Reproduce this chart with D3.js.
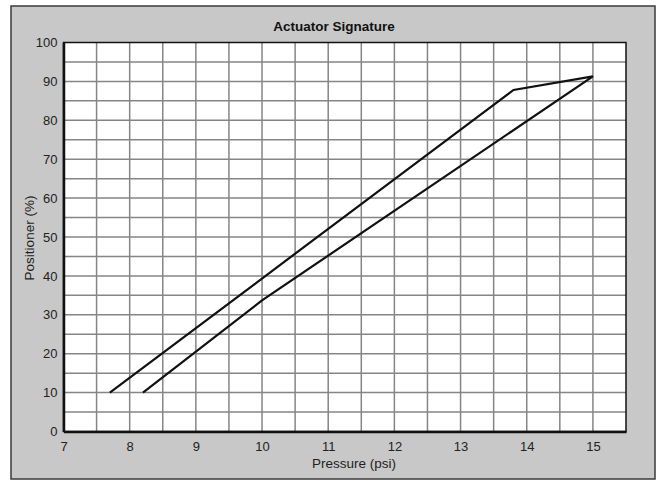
<!DOCTYPE html>
<html>
<head>
<meta charset="utf-8">
<script src="https://cdn.jsdelivr.net/npm/d3@7"></script>
<style>
  html, body { margin: 0; padding: 0; background: #fff; }
  svg { display: block; font-family: "Liberation Sans", Arial, sans-serif; }
</style>
</head>
<body>
<svg id="chart" width="657" height="482"></svg>
<script>
// Data (hysteresis loop: increasing stroke, then decreasing stroke)
const pressure   = [8.2, 10, 15, 13.8, 7.7];
const positioner = [10, 33.7, 91.3, 87.8, 10];
const xTicks = [7, 8, 9, 10, 11, 12, 13, 14, 15];
const yTicks = [0, 10, 20, 30, 40, 50, 60, 70, 80, 90, 100];
const xGrid = d3.range(7.5, 15.01, 0.5);
const yGrid = d3.range(5, 100, 5);
const title = "Actuator Signature";
const xTitle = "Pressure (psi)";
const yTitle = "Positioner (%)";

const svg = d3.select("#chart");
const plot = { left: 63.5, right: 626, top: 42.5, bottom: 431.5 };

// Outer panel
svg.append("rect")
  .attr("x", 11).attr("y", 6)
  .attr("width", 644).attr("height", 473)
  .attr("fill", "#c8c8c8")
  .attr("stroke", "#3a3a3a").attr("stroke-width", 1.5);

const x = d3.scaleLinear().domain([7, 15.5]).range([plot.left, plot.right]);
const y = d3.scaleLinear().domain([0, 100]).range([plot.bottom, plot.top]);

// Plot background
svg.append("rect")
  .attr("x", plot.left).attr("y", plot.top)
  .attr("width", plot.right - plot.left).attr("height", plot.bottom - plot.top)
  .attr("fill", "#ffffff");

// Grid
const grid = svg.append("g").attr("stroke", "#858585").attr("stroke-width", 1.5);
grid.selectAll("line.v").data(xGrid).join("line")
  .attr("class", "v")
  .attr("x1", d => x(d)).attr("x2", d => x(d))
  .attr("y1", plot.top).attr("y2", plot.bottom);
grid.selectAll("line.h").data(yGrid).join("line")
  .attr("class", "h")
  .attr("x1", plot.left).attr("x2", plot.right)
  .attr("y1", d => y(d)).attr("y2", d => y(d));

// Frame
svg.append("rect")
  .attr("x", plot.left).attr("y", plot.top)
  .attr("width", plot.right - plot.left).attr("height", plot.bottom - plot.top)
  .attr("fill", "none").attr("stroke", "#111").attr("stroke-width", 1.5);

// Axes
const xAxis = d3.axisBottom(x).tickValues(xTicks).tickSize(0).tickPadding(10).tickFormat(d3.format("d"));
const yAxis = d3.axisLeft(y).tickValues(yTicks).tickSize(0).tickPadding(6).tickFormat(d3.format("d"));

const gx = svg.append("g").attr("transform", `translate(0,${plot.bottom})`).call(xAxis);
const gy = svg.append("g").attr("transform", `translate(${plot.left},0)`).call(yAxis);
[gx, gy].forEach(g => {
  g.select(".domain").attr("stroke", "#111").attr("stroke-width", 2.5);
  g.selectAll("text").attr("font-size", 13).attr("fill", "#222")
    .attr("font-family", "'Liberation Sans', Arial, sans-serif");
});

// Series line
const line = d3.line().x(d => x(d[0])).y(d => y(d[1]));
svg.append("path")
  .datum(pressure.map((p, i) => [p, positioner[i]]))
  .attr("d", line)
  .attr("fill", "none")
  .attr("stroke", "#111")
  .attr("stroke-width", 2.2)
  .attr("stroke-linejoin", "miter");

// Titles
svg.append("text")
  .attr("x", 334).attr("y", 31)
  .attr("text-anchor", "middle")
  .attr("font-size", 13.5).attr("font-weight", "bold").attr("fill", "#111")
  .text(title);

svg.append("text")
  .attr("x", 354).attr("y", 468)
  .attr("text-anchor", "middle")
  .attr("font-size", 13.5).attr("fill", "#222")
  .text(xTitle);

svg.append("text")
  .attr("transform", "translate(34,238) rotate(-90)")
  .attr("text-anchor", "middle")
  .attr("font-size", 13.5).attr("fill", "#222")
  .text(yTitle);
</script>
</body>
</html>
